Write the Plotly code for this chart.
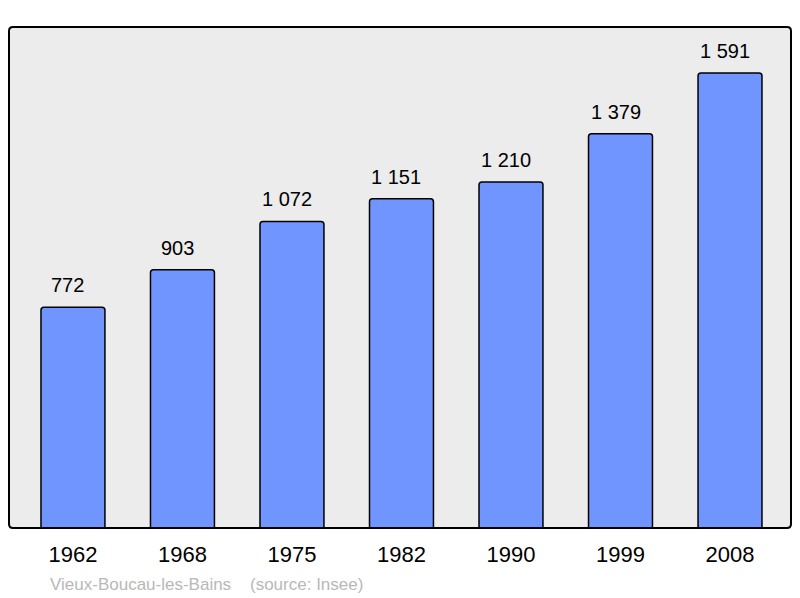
import plotly.graph_objects as go

years = ["1962", "1968", "1975", "1982", "1990", "1999", "2008"]
population = [772, 903, 1072, 1151, 1210, 1379, 1591]
value_labels = ["772", "903", "1 072", "1 151", "1 210", "1 379", "1 591"]
caption = "Vieux-Boucau-les-Bains&nbsp;&nbsp;&nbsp;&nbsp;(source: Insee)"

W, H = 800, 598
OFF = 8  # page body margin
L, R, T, B = 9 - OFF, 9 + OFF, 27 - OFF, 70 + OFF
xs = list(range(len(years)))

fig = go.Figure()
fig.add_trace(go.Bar(
    x=xs, y=population, width=0.584,
    marker=dict(color="#7095ff", line=dict(color="#000000", width=1.5), cornerradius=3),
    hoverinfo="skip",
))

for xi, v, lab in zip(xs, population, value_labels):
    fig.add_annotation(x=xi, y=v, text=lab, showarrow=False, yanchor="bottom",
                       yshift=9, xshift=-5,
                       font=dict(family="Liberation Sans, Arial", size=20, color="#000"))

# rounded plot border
pw, ph = W - L - R, H - T - B
rx, ry = 4 / pw, 4 / ph
path = (f"M {rx},0 L {1-rx},0 Q 1,0 1,{ry} L 1,{1-ry} Q 1,1 {1-rx},1 "
        f"L {rx},1 Q 0,1 0,{1-ry} L 0,{ry} Q 0,0 {rx},0 Z")
fig.add_shape(type="path", path=path, xref="paper", yref="paper",
              line=dict(color="#000000", width=2), layer="above")

fig.add_annotation(text=caption, showarrow=False, xref="paper", yref="paper",
                   x=(48 - 9) / pw, y=(528 - 584) / ph, xanchor="left", yanchor="middle",
                   font=dict(family="Liberation Sans, Arial", size=17, color="#b8b8b8"))

fig.update_layout(
    width=W, height=H,
    margin=dict(l=L, r=R, t=T, b=B),
    paper_bgcolor="#ffffff", plot_bgcolor="#ececec",
    showlegend=False,
    xaxis=dict(range=[-0.584, 6.557], tickmode="array", tickvals=xs, ticktext=years,
               showgrid=False, zeroline=False, ticks="outside", ticklen=7, tickcolor="rgba(0,0,0,0)",
               tickfont=dict(family="Liberation Sans, Arial", size=22, color="#000")),
    yaxis=dict(range=[0, 1752], showticklabels=False, showgrid=False, zeroline=False),
)

fig.write_html("out.html")
